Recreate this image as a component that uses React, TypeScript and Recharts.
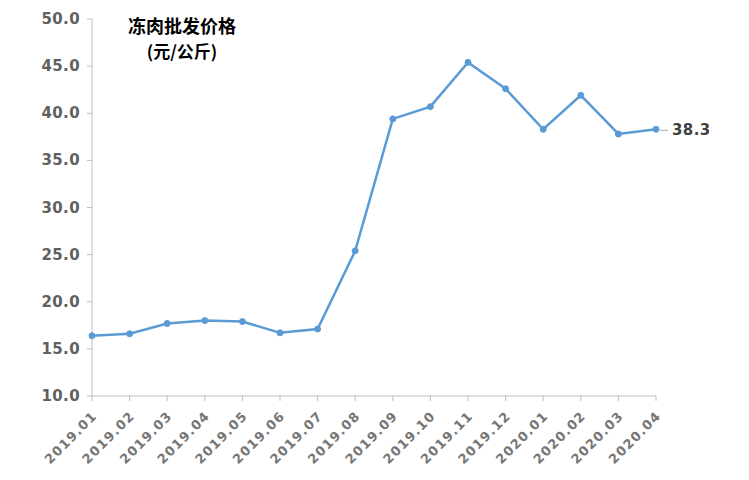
import React from 'react';
import { LineChart, Line, XAxis, YAxis, LabelList } from 'recharts';

const months = [
  '2019.01', '2019.02', '2019.03', '2019.04', '2019.05', '2019.06', '2019.07', '2019.08',
  '2019.09', '2019.10', '2019.11', '2019.12', '2020.01', '2020.02', '2020.03', '2020.04',
];
const prices = [16.4, 16.6, 17.7, 18.0, 17.9, 16.7, 17.1, 25.4, 39.4, 40.7, 45.4, 42.6, 38.3, 41.9, 37.8, 38.3];
const yTicks = [10, 15, 20, 25, 30, 35, 40, 45, 50];

const titleLines = ['冻肉批发价格', '(元/公斤)'];

const data = months.map((m, i) => ({ month: m, price: prices[i] }));

const numFont = '"DejaVu Sans", sans-serif';
const cjkFont = '"Noto Sans CJK SC", sans-serif';

const XTick = (props: any) => {
  const { x, y, payload } = props;
  return (
    <g transform={`translate(${x + 3},${y + 11})`}>
      <text
        transform="rotate(-45)"
        textAnchor="end"
        dy={4}
        fontSize={13}
        letterSpacing={1.2}
        fontWeight={600}
        fill="#767676"
        fontFamily={numFont}
      >
        {payload.value}
      </text>
    </g>
  );
};

const YTick = (props: any) => {
  const { x, y, payload } = props;
  return (
    <text x={x - 5} y={y} dy={5} textAnchor="end" fontSize={15} letterSpacing={0.4} fontWeight="bold" fill="#606060" fontFamily={numFont}>
      {Number(payload.value).toFixed(1)}
    </text>
  );
};

const LastLabel = (props: any) => {
  const { x, y, value, index } = props;
  if (index !== prices.length - 1) return null;
  return (
    <g>
      <line x1={x + 4} y1={y + 1} x2={x + 12} y2={y + 1} stroke="#a6a6a6" strokeWidth={1} />
      <text x={x + 16} y={y} dy={6} fontSize={15} letterSpacing={0.4} fontWeight="bold" fill="#404040" fontFamily={numFont}>
        {value.toFixed(1)}
      </text>
    </g>
  );
};

export default function App() {
  return (
    <div style={{ position: 'absolute', left: 0, top: 0, width: 749, height: 480, background: '#fff' }}>
      <LineChart width={749} height={480} data={data} margin={{ top: 19, right: 93, left: 32, bottom: 24 }}>
        <XAxis
          dataKey="month"
          interval={0}
          height={60}
          padding={{ left: 0, right: 0 }}
          stroke="#bfbfbf"
          tickSize={5}
          tick={<XTick />}
        />
        <YAxis
          domain={[10, 50]}
          ticks={yTicks}
          width={60}
          stroke="#bfbfbf"
          tickSize={5}
          tick={<YTick />}
        />
        <Line
          type="linear"
          dataKey="price"
          stroke="#5b9bd5"
          strokeWidth={2.5}
          dot={{ r: 3, fill: '#5b9bd5', stroke: '#5b9bd5', strokeWidth: 1 }}
          isAnimationActive={false}
        >
          <LabelList dataKey="price" content={<LastLabel />} />
        </Line>
        <text x={182} y={33} textAnchor="middle" fontSize={18} fontWeight="bold" fill="#000" fontFamily={cjkFont}>
          {titleLines[0]}
        </text>
        <text x={182} y={58} textAnchor="middle" fontSize={17} fontWeight="bold" fill="#000" fontFamily={cjkFont}>
          {titleLines[1]}
        </text>
      </LineChart>
    </div>
  );
}
